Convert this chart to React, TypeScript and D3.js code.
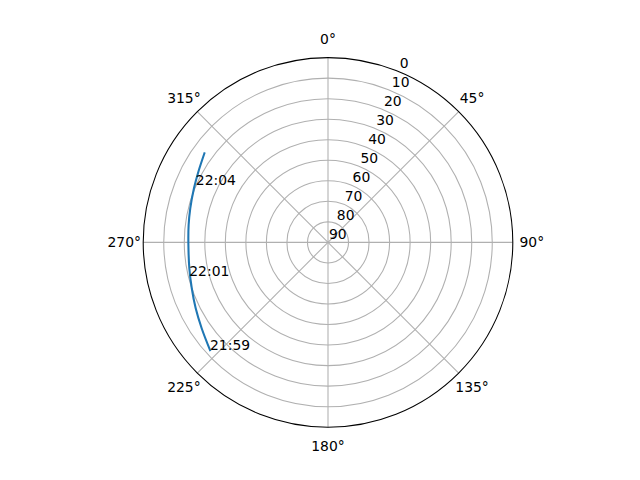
import React from 'react';
import * as d3 from 'd3';

// Satellite pass: azimuth (deg, clockwise from north) and elevation (deg)
const azimuthDeg = [227.6, 235.8, 243.5, 251.4, 259.4, 268.9, 277.1, 283.9, 292.0, 298.6, 305.8];
const elevationDeg = [12.2, 15.6, 18.0, 20.0, 21.3, 22.0, 21.6, 20.9, 19.6, 18.1, 15.8];

// Time annotations along the track
const timeLabels = ['21:59', '22:01', '22:04'];
const timeLabelAz = [227.6, 256.4, 293.5];
const timeLabelEl = [12.2, 20.5, 19.8];

// Axis ticks
const thetaTicks = [0, 45, 90, 135, 180, 225, 270, 315];
const rTicks = [0, 10, 20, 30, 40, 50, 60, 70, 80, 90];

const W = 640;
const H = 480;
const CX = 328;
const CY = 242.4;
const R = 184.8;
const FONT = '"DejaVu Sans", sans-serif';
const FS = 13.9;

export default function App() {
  const r = d3.scaleLinear().domain([90, 0]).range([0, R]);
  const toRad = (d: number) => (d * Math.PI) / 180;
  const px = (az: number, el: number) => CX + r(el) * Math.sin(toRad(az));
  const py = (az: number, el: number) => CY - r(el) * Math.cos(toRad(az));

  const track = azimuthDeg.map((a, i) => ({ a, e: elevationDeg[i] }));
  const line = d3
    .lineRadial<{ a: number; e: number }>()
    .angle((d) => toRad(d.a))
    .radius((d) => r(d.e))
    .curve(d3.curveCatmullRom);

  const labelAngle = 22.5;

  return (
    <svg
      width={W}
      height={H}
      style={{ position: 'absolute', left: 0, top: 0, background: '#fff' }}
      fontFamily={FONT}
      fontSize={FS}
    >
      <rect x={0} y={0} width={W} height={H} fill="#fff" />
      {/* circular grid */}
      {rTicks
        .filter((t) => t !== 90 && t !== 0)
        .map((t) => (
          <circle key={'c' + t} cx={CX} cy={CY} r={r(t)} fill="none" stroke="#b0b0b0" strokeWidth={1.07} />
        ))}
      {/* angular grid */}
      {thetaTicks.map((t) => (
        <line
          key={'l' + t}
          x1={CX}
          y1={CY}
          x2={px(t, 0)}
          y2={py(t, 0)}
          stroke="#b0b0b0"
          strokeWidth={1.07}
        />
      ))}
      {/* spine */}
      <circle cx={CX} cy={CY} r={R} fill="none" stroke="#000" strokeWidth={1.07} />
      {/* track */}
      <path
        d={line(track) || ''}
        transform={`translate(${CX},${CY})`}
        fill="none"
        stroke="#1f77b4"
        strokeWidth={2.08}
        strokeLinecap="square"
      />
      {/* theta labels */}
      {thetaTicks.map((t) => (
        <text
          key={'tl' + t}
          x={CX + (R + 19) * Math.sin(toRad(t))}
          y={CY - (R + 19) * Math.cos(toRad(t))}
          textAnchor="middle"
          dominantBaseline="central"
          fill="#000"
        >
          {t + '°'}
        </text>
      ))}
      {/* r labels */}
      {rTicks.map((t) => (
        <text
          key={'rl' + t}
          x={px(labelAngle, t) + 1}
          y={py(labelAngle, t) - 3.3}
          textAnchor="start"
          fill="#000"
        >
          {t}
        </text>
      ))}
      {/* time annotations */}
      {timeLabels.map((s, i) => (
        <text key={'tt' + i} x={px(timeLabelAz[i], timeLabelEl[i])} y={py(timeLabelAz[i], timeLabelEl[i])} fill="#000">
          {s}
        </text>
      ))}
    </svg>
  );
}
